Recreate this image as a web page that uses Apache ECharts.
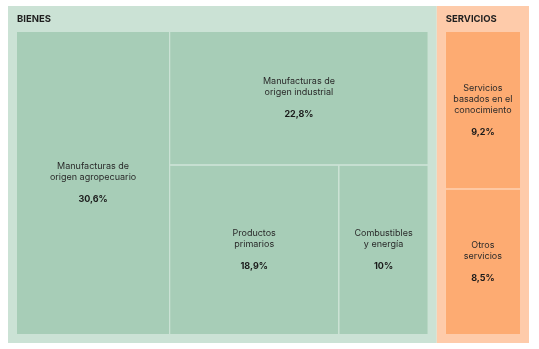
<!DOCTYPE html>
<html>
<head>
<meta charset="utf-8">
<script src="https://cdn.jsdelivr.net/npm/echarts@6/dist/echarts.min.js"></script>
<style>html,body{margin:0;padding:0;background:#fff}#c{width:539px;height:349px}</style>
</head>
<body>
<div id="c"></div>
<script>
const groups = ['BIENES', 'SERVICIOS'];
const bienesNames = ['Manufacturas de\norigen agropecuario', 'Manufacturas de\norigen industrial', 'Productos\nprimarios', 'Combustibles\ny energía'];
const bienesValues = [30.6, 22.8, 18.9, 10];
const serviciosNames = ['Servicios\nbasados en el\nconocimiento', 'Otros\nservicios'];
const serviciosValues = [9.2, 8.5];

const groupOuter = ['#cbe2d5', '#fecbaa'];
const groupInner = ['#a7cdb7', '#fdab72'];

const LINE_H = 11, GAP_H = 10.5, VAL_H = 12;

function fmt(v) { return String(v).replace('.', ','); }

function leaves(names, values, color) {
  return names.map((n, i) => ({ name: n, value: values[i], itemStyle: { color: color } }));
}

const data = [
  { name: groups[0], itemStyle: { color: groupOuter[0], borderColor: groupOuter[0] },
    children: leaves(bienesNames, bienesValues, groupInner[0]) },
  { name: groups[1], itemStyle: { color: groupOuter[1], borderColor: groupOuter[1] },
    children: leaves(serviciosNames, serviciosValues, groupInner[1]) }
];

const chart = echarts.init(document.getElementById('c'), null, { renderer: 'canvas' });
chart.setOption({
  animation: false,
  series: [{
    type: 'treemap',
    left: 8, top: 6, right: 10, bottom: 6,
    roam: false,
    nodeClick: false,
    breadcrumb: { show: false },
    sort: false,
    squareRatio: 1,
    visibleMin: 0,
    data: data,
    labelLayout: function (p) {
      const t = p.text || '';
      if (t.indexOf('{v|') < 0) return {};
      const n = t.split('\n').length - 2;
      const h = n * LINE_H + GAP_H + VAL_H;
      return { dy: Math.max(0, (p.rect.height - h) / 2) };
    },
    label: {
      show: true,
      position: ['50%', '50%'],
      align: 'center',
      verticalAlign: 'middle',
      padding: 0,
      formatter: function (p) {
        const lines = p.name.split('\n').map(l => '{n|' + l + '}').join('\n');
        return lines + '\n{g|}\n{v|' + fmt(p.value) + '%}';
      },
      rich: {
        n: { fontFamily: 'Inter', fontSize: 9, color: '#2a2a2a', lineHeight: LINE_H, align: 'center' },
        g: { lineHeight: GAP_H },
        v: { fontFamily: 'Inter', fontSize: 9, fontWeight: 'bold', color: '#1a1a1a', lineHeight: VAL_H, align: 'center' }
      }
    },
    levels: [
      { itemStyle: { borderWidth: 0, gapWidth: 0 } },
      {
        itemStyle: { borderWidth: 9, gapWidth: 1 },
        upperLabel: {
          show: true,
          height: 26,
          position: 'insideLeft',
          distance: 0,
          fontFamily: 'Inter',
          fontSize: 9.5,
          fontWeight: 'bold',
          color: '#1f1f1f',
          formatter: '{b}'
        }
      },
      { itemStyle: { borderWidth: 0, gapWidth: 0 } }
    ]
  }]
});
</script>
</body>
</html>
